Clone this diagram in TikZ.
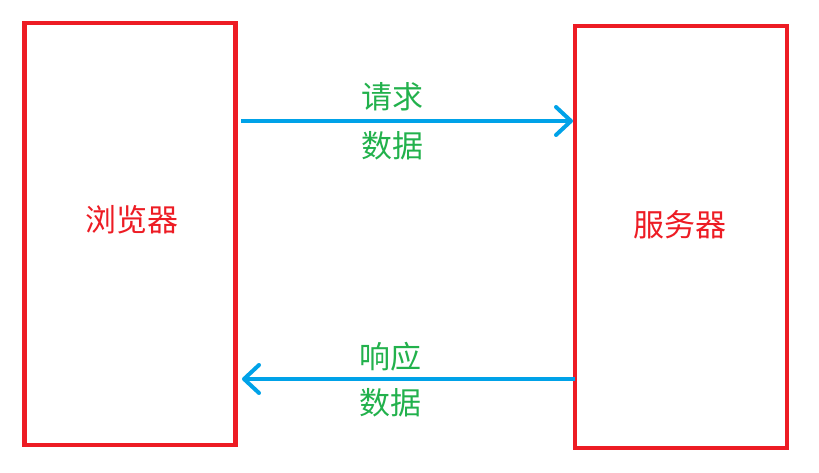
\documentclass[tikz,border=0pt]{standalone}
\usepackage{fontspec}
\newfontfamily\cjk{Noto Sans CJK SC}
\definecolor{boxred}{RGB}{237,28,36}
\definecolor{arrowblue}{RGB}{0,162,232}
\definecolor{labelgreen}{RGB}{34,177,76}
\usetikzlibrary{arrows.meta}
\tikzset{
  sidebox/.style={draw=boxred,line width=4.5pt,minimum width=211pt,inner sep=0pt},
  boxtext/.style={text=boxred,font=\cjk\fontsize{31}{31}\selectfont},
  flow/.style={draw=arrowblue,line width=4pt,-{Straight Barb[length=15pt,width=28pt,line width=4pt,round]}},
  flowtext/.style={text=labelgreen,font=\cjk\fontsize{31}{31}\selectfont,inner sep=0pt}
}
\begin{document}
\begin{tikzpicture}[x=1pt,y=-1pt]
  \useasboundingbox (0,0) rectangle (819,473);
  \node[sidebox,minimum height=422pt] (browser) at (130,234) {};
  \node[sidebox,minimum height=422pt,minimum width=212pt] (server) at (681,237) {};
  \node[boxtext] at (131.5,220) {浏览器}; \node[boxtext] at (680,225) {服务器};
  \coordinate (reqa) at (241,121); \coordinate (reqb) at (573,121);
  \coordinate (resa) at (575,379); \coordinate (resb) at (242,379);
  \draw[flow] (reqa) -- (reqb); \draw[flow] (resa) -- (resb);
  \node[flowtext] (req) at (392,97) {请求}; \node[flowtext] (reqdata) at (392,146) {数据};
  \node[flowtext] (res) at (390,357) {响应}; \node[flowtext] (resdata) at (390,403) {数据};
\end{tikzpicture}
\end{document}
